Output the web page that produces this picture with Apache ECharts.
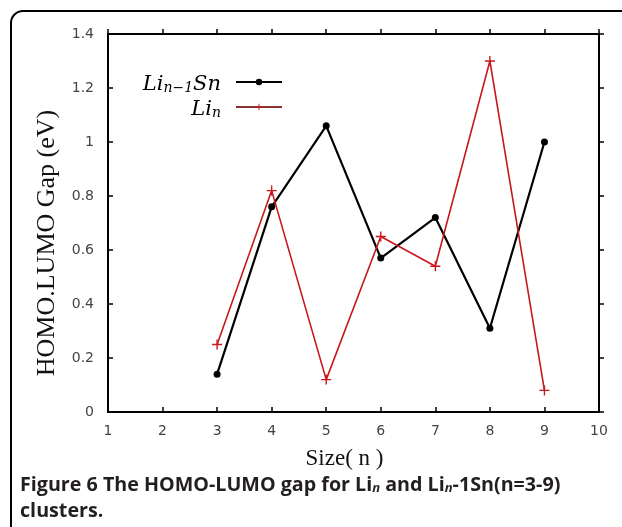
<!DOCTYPE html>
<html>
<head>
<meta charset="utf-8">
<script src="https://cdn.jsdelivr.net/npm/echarts@6/dist/echarts.min.js"></script>
<style>
  html, body { margin: 0; padding: 0; background: #fff; }
  #main { width: 622px; height: 527px; }
</style>
</head>
<body>
<div id="main"></div>
<script>
// cluster size n
var sizes = [3, 4, 5, 6, 7, 8, 9];
// HOMO-LUMO gap (eV)
var gapLiSn = [0.14, 0.76, 1.06, 0.57, 0.72, 0.31, 1.0];
var gapLi = [0.25, 0.82, 0.12, 0.65, 0.54, 1.3, 0.08];

function pairs(xs, ys) {
    return xs.map(function (x, i) { return [x, ys[i]]; });
}

var plusPath = 'path://M4.3,0H5.7V4.3H10V5.7H5.7V10H4.3V5.7H0V4.3H4.3Z';

var chart = echarts.init(document.getElementById('main'));

var tickIn = { show: true, inside: true, length: 5, lineStyle: { color: '#000', width: 1.5 } };
var tickMirror = { show: true, inside: false, length: 5, lineStyle: { color: '#000', width: 1.5 } };
var lineStyle = { show: true, onZero: false, lineStyle: { color: '#000', width: 2 } };
var labelStyle = { fontFamily: 'DejaVu Sans', fontSize: 14, color: '#444' };

var legendRich = {
    m: { fontFamily: 'DejaVu Serif', fontStyle: 'italic', fontSize: 21, color: '#000', verticalAlign: 'bottom', lineHeight: 26 },
    s: { fontFamily: 'DejaVu Serif', fontStyle: 'italic', fontSize: 14, color: '#000', verticalAlign: 'bottom', lineHeight: 18 },
    g: { width: 10 }
};

var option = {
    animation: false,
    grid: { left: 108, right: 23, top: 34, bottom: 115 },
    xAxis: [
        {
            type: 'value', min: 1, max: 10, interval: 1,
            axisLine: lineStyle, axisTick: tickIn, splitLine: { show: false },
            axisLabel: Object.assign({ margin: 12 }, labelStyle),
            name: 'Size( n )', nameLocation: 'middle', nameGap: 35,
            nameTextStyle: { fontFamily: 'Liberation Serif', fontSize: 23, color: '#111', padding: [0, 18, 0, 0] }
        },
        {
            type: 'value', min: 1, max: 10, interval: 1, position: 'top',
            axisLine: lineStyle, axisTick: tickMirror, splitLine: { show: false },
            axisLabel: { show: false }
        }
    ],
    yAxis: [
        {
            type: 'value', min: 0, max: 1.4, interval: 0.2,
            axisLine: lineStyle, axisTick: tickIn, splitLine: { show: false },
            axisLabel: Object.assign({ margin: 14 }, labelStyle),
            name: 'HOMO.LUMO Gap (eV)', nameLocation: 'middle', nameGap: 48,
            nameTextStyle: { fontFamily: 'Liberation Serif', fontSize: 26, color: '#111', padding: [0, 40, 0, 0] }
        },
        {
            type: 'value', min: 0, max: 1.4, interval: 0.2, position: 'right',
            axisLine: lineStyle, axisTick: tickMirror, splitLine: { show: false },
            axisLabel: { show: false }
        }
    ],
    legend: [
        {
            data: ['LiSn'], right: 334, top: 69, align: 'right',
            itemWidth: 46, itemHeight: 8,
            formatter: function () { return '{m|Li}{s|n−1}{m|Sn}{g|}'; },
            textStyle: { rich: legendRich }
        },
        {
            data: [{ name: 'Li', lineStyle: { color: '#8a3232' } }], right: 334, top: 94, align: 'right',
            itemWidth: 46, itemHeight: 8,
            formatter: function () { return '{m|Li}{s|n}{g|}'; },
            textStyle: { rich: legendRich }
        }
    ],
    series: [
        {
            name: 'LiSn', type: 'line',
            data: pairs(sizes, gapLiSn),
            symbol: 'circle', symbolSize: 7,
            itemStyle: { color: '#000' },
            lineStyle: { color: '#000', width: 2.2 }
        },
        {
            name: 'Li', type: 'line',
            data: pairs(sizes, gapLi),
            symbol: plusPath, symbolSize: 10,
            itemStyle: { color: '#c8181c' },
            lineStyle: { color: '#c8181c', width: 1.6 }
        }
    ],
    graphic: [
        {
            type: 'rect', silent: true,
            shape: { x: 11, y: 11, width: 700, height: 600, r: 12 },
            style: { fill: 'none', stroke: '#000', lineWidth: 2 }
        },
        {
            type: 'text', left: 20, top: 475,
            style: {
                text: '{t|Figure 6 The HOMO-LUMO gap for Li}{i|n}{t| and Li}{i|n}{t|-1Sn(n=3-9)}\n{t|clusters.}',
                rich: {
                    t: { fontFamily: 'Open Sans', fontWeight: 'bold', fontSize: 19.7, fill: '#231f20', lineHeight: 26, verticalAlign: 'bottom' },
                    i: { fontFamily: 'Open Sans', fontWeight: 'bold', fontStyle: 'italic', fontSize: 13, fill: '#231f20', lineHeight: 14, verticalAlign: 'bottom' }
                }
            }
        }
    ]
};

chart.setOption(option);

window.onresize = function () {
    chart.resize();
};
</script>
</body>
</html>
